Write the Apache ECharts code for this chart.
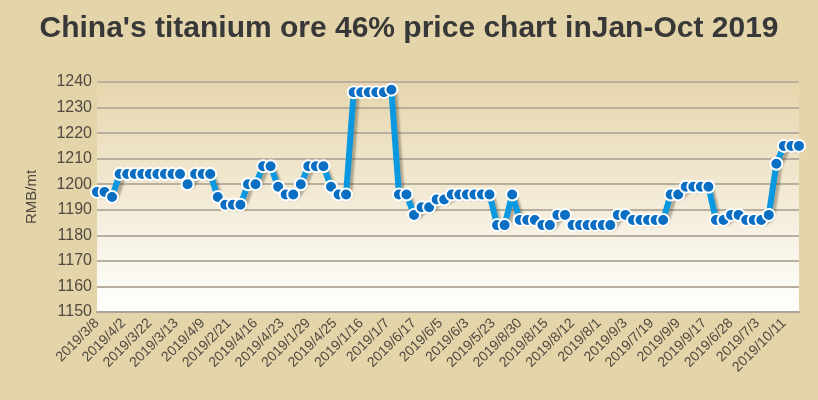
<!DOCTYPE html>
<html>
<head>
<meta charset="utf-8">
<script src="https://cdn.jsdelivr.net/npm/echarts@6/dist/echarts.min.js"></script>
<style>
  html, body { margin: 0; padding: 0; background: #e4d4a9; }
  .myChart { width: 818px; height: 400px; }
</style>
</head>
<body>
<!-- price chart container -->
<div id="priceChart" class="myChart"></div>
<script>
// x axis tick labels (shown every 3.5 points)
const xLabels = ['2019/3/8', '2019/4/2', '2019/3/22', '2019/3/13', '2019/4/9', '2019/2/21', '2019/4/16',
  '2019/4/23', '2019/1/29', '2019/4/25', '2019/1/16', '2019/1/7', '2019/6/17', '2019/6/5', '2019/6/3',
  '2019/5/23', '2019/8/30', '2019/8/15', '2019/8/12', '2019/8/1', '2019/9/3', '2019/7/19', '2019/9/9',
  '2019/9/17', '2019/6/28', '2019/7/3', '2019/10/11'];

// price values, RMB/mt
const prices = [
  1197, 1197, 1195, 1204, 1204, 1204, 1204, 1204, 1204, 1204, 1204, 1204, 1200, 1204, 1204, 1204,
  1195, 1192, 1192, 1192, 1200, 1200, 1207, 1207, 1199, 1196, 1196, 1200, 1207, 1207, 1207, 1199,
  1196, 1196, 1236, 1236, 1236, 1236, 1236, 1237, 1196, 1196, 1188, 1191, 1191, 1194, 1194, 1196,
  1196, 1196, 1196, 1196, 1196, 1184, 1184, 1196, 1186, 1186, 1186, 1184, 1184, 1188, 1188, 1184,
  1184, 1184, 1184, 1184, 1184, 1188, 1188, 1186, 1186, 1186, 1186, 1186, 1196, 1196, 1199, 1199,
  1199, 1199, 1186, 1186, 1188, 1188, 1186, 1186, 1186, 1188, 1208, 1215, 1215, 1215
];

const pointIdx = prices.map((v, i) => i);
const labelStep = 3.5;

const myEcharts = echarts.init(document.getElementById('priceChart'));

let option = {
  backgroundColor: '#e4d4a9',
  title: {
    text: "China's titanium ore 46% price chart inJan-Oct 2019",
    left: 'center',
    top: 9,
    textStyle: {
      fontFamily: 'Liberation Sans, Arial, sans-serif',
      fontSize: 30,
      fontWeight: 'bold',
      color: '#383838'
    }
  },
  grid: {
    left: 97,
    right: 19,
    top: 82,
    bottom: 88,
    show: true,
    borderWidth: 0,
    backgroundColor: new echarts.graphic.LinearGradient(0, 0, 0, 1, [
      { offset: 0, color: '#e6d6ad' },
      { offset: 1, color: '#ffffff' }
    ])
  },
  xAxis: [
    {
      // data axis: one category per point, no labels
      type: 'category',
      boundaryGap: false,
      data: pointIdx,
      axisLine: { show: true, lineStyle: { color: '#aaa49a', width: 2 } },
      axisTick: { show: false },
      axisLabel: { show: false }
    },
    {
      // label axis: dates every 3.5 points
      type: 'value',
      position: 'bottom',
      min: 0,
      max: (prices.length - 1) / labelStep,
      interval: 1,
      axisLine: { show: false },
      axisTick: { show: false },
      splitLine: { show: false },
      axisLabel: {
        rotate: 45,
        margin: 9,
        fontFamily: 'Liberation Sans, Arial, sans-serif',
        fontSize: 14,
        color: '#4f4a42',
        showMaxLabel: false,
        formatter: function (v) {
          return xLabels[Math.round(v)] || '';
        }
      }
    }
  ],
  yAxis: {
    type: 'value',
    min: 1150,
    max: 1240,
    interval: 10,
    name: 'RMB/mt',
    nameLocation: 'middle',
    nameGap: 58,
    nameTextStyle: {
      fontFamily: 'Liberation Sans, Arial, sans-serif',
      fontSize: 15,
      color: '#4f4a42'
    },
    axisLine: { show: false },
    axisTick: { show: false },
    axisLabel: {
      fontFamily: 'Liberation Sans, Arial, sans-serif',
      fontSize: 16,
      color: '#4f4a42',
      margin: 5,
      formatter: function (v) {
        return String(v);
      }
    },
    splitLine: { lineStyle: { color: '#b8af9f', width: 2 } }
  },
  series: [
    {
      name: 'price',
      type: 'line',
      xAxisIndex: 0,
      data: prices,
      symbol: 'circle',
      symbolSize: 12,
      showAllSymbol: true,
      lineStyle: {
        color: '#0a98e0',
        width: 6,
        shadowColor: 'rgba(60,50,30,0.35)',
        shadowBlur: 2,
        shadowOffsetX: 3,
        shadowOffsetY: 3
      },
      itemStyle: {
        color: '#0a6fc2',
        borderColor: '#ffffff',
        borderWidth: 2
      },
      animation: false
    }
  ]
};

myEcharts.setOption(option);
window.addEventListener('resize', () => {
  myEcharts.resize();
});
</script>
</body>
</html>
